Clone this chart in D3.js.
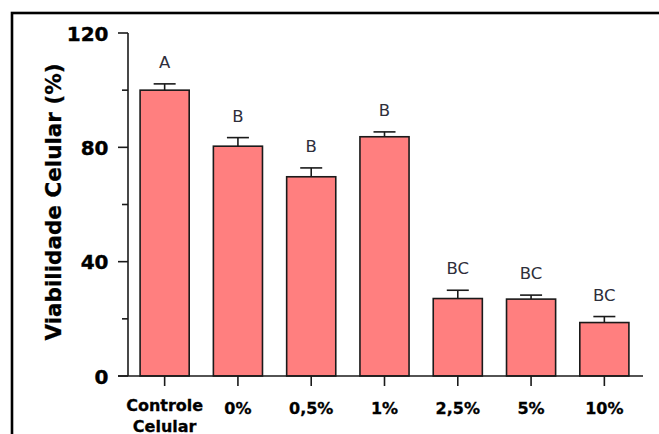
<!DOCTYPE html>
<html>
<head>
<meta charset="utf-8">
<script src="https://cdn.jsdelivr.net/npm/d3@7"></script>
<style>
  html, body { margin: 0; padding: 0; background: #fff; }
  svg { display: block; }
</style>
</head>
<body>
<div id="chart"></div>
<script>
// Cell viability per treatment group (mean, upper error, significance letter)
const groups = ["Controle Celular", "0%", "0,5%", "1%", "2,5%", "5%", "10%"];
const viability = [100, 80.4, 69.7, 83.7, 27.1, 26.9, 18.7];
const errUpper = [2.2, 3.0, 3.1, 1.7, 2.9, 1.4, 2.1];
const letters = ["A", "B", "B", "B", "BC", "BC", "BC"];
const yTicksMajor = [0, 40, 80, 120];
const yTicksMinor = [20, 60, 100];

const W = 659, H = 434;
const svg = d3.select("#chart").append("svg")
  .attr("width", W).attr("height", H);

// outer frame
svg.append("rect")
  .attr("x", 12).attr("y", 13)
  .attr("width", W + 20).attr("height", H + 20)
  .attr("fill", "none").attr("stroke", "#000").attr("stroke-width", 2.6);

const x = d3.scaleBand()
  .domain(groups)
  .range([128, 641])
  .paddingInner(0.33)
  .paddingOuter(0.165);

const y = d3.scaleLinear().domain([0, 120]).range([376, 33]);

const g = svg.append("g");

// bars
g.selectAll("rect.bar")
  .data(groups)
  .join("rect")
  .attr("class", "bar")
  .attr("x", d => x(d))
  .attr("width", x.bandwidth())
  .attr("y", (d, i) => y(viability[i]))
  .attr("height", (d, i) => y(0) - y(viability[i]))
  .attr("fill", "#FF7F7F")
  .attr("stroke", "#1a1a1a")
  .attr("stroke-width", 1.6);

// error bars (upper only) with significance letters
const cap = 11;
groups.forEach((d, i) => {
  const cx = x(d) + x.bandwidth() / 2;
  const top = y(viability[i] + errUpper[i]);
  g.append("line")
    .attr("x1", cx).attr("x2", cx)
    .attr("y1", y(viability[i])).attr("y2", top)
    .attr("stroke", "#1a1a1a").attr("stroke-width", 1.6);
  g.append("line")
    .attr("x1", cx - cap).attr("x2", cx + cap)
    .attr("y1", top).attr("y2", top)
    .attr("stroke", "#1a1a1a").attr("stroke-width", 1.6);
  g.append("text")
    .attr("x", cx)
    .attr("y", top - 16)
    .attr("text-anchor", "middle")
    .attr("font-family", "DejaVu Sans, Verdana, sans-serif")
    .attr("font-size", 16.5)
    .attr("fill", "#2e2e3a")
    .text(letters[i]);
});

// y axis line
g.append("line")
  .attr("x1", 128).attr("x2", 128)
  .attr("y1", y(120)).attr("y2", y(0))
  .attr("stroke", "#1a1a1a").attr("stroke-width", 1.6);

// y major ticks + labels
yTicksMajor.forEach(v => {
  g.append("line")
    .attr("x1", 118).attr("x2", 128)
    .attr("y1", y(v)).attr("y2", y(v))
    .attr("stroke", "#1a1a1a").attr("stroke-width", 1.6);
  g.append("text")
    .attr("x", 108.5).attr("y", y(v) + 7.5)
    .attr("text-anchor", "end")
    .attr("font-family", "DejaVu Sans, Verdana, sans-serif")
    .attr("font-weight", "bold")
    .attr("font-size", 20)
    .attr("fill", "#000")
    .attr("stroke", "#000")
    .attr("stroke-width", 0.4)
    .text(v);
});
// y minor ticks
yTicksMinor.forEach(v => {
  g.append("line")
    .attr("x1", 122).attr("x2", 128)
    .attr("y1", y(v)).attr("y2", y(v))
    .attr("stroke", "#1a1a1a").attr("stroke-width", 1.6);
});

// x axis line and ticks
g.append("line")
  .attr("x1", 118).attr("x2", 643)
  .attr("y1", y(0)).attr("y2", y(0))
  .attr("stroke", "#1a1a1a").attr("stroke-width", 1.6);

groups.forEach(d => {
  const cx = x(d) + x.bandwidth() / 2;
  g.append("line")
    .attr("x1", cx).attr("x2", cx)
    .attr("y1", y(0)).attr("y2", y(0) + 10)
    .attr("stroke", "#1a1a1a").attr("stroke-width", 1.6);
  const lines = d.split(" ");
  const t = g.append("text")
    .attr("text-anchor", "middle")
    .attr("font-family", "DejaVu Sans, Verdana, sans-serif")
    .attr("font-weight", "bold")
    .attr("font-size", 16)
    .attr("fill", "#000")
    .attr("stroke", "#000")
    .attr("stroke-width", 0.3);
  if (lines.length > 1) {
    lines.forEach((ln, k) => {
      t.append("tspan").attr("x", cx).attr("y", 411 + k * 20.5).text(ln);
    });
  } else {
    t.attr("x", cx).attr("y", 414).text(d);
  }
});

// y axis title
svg.append("text")
  .attr("transform", "translate(61,202) rotate(-90)")
  .attr("text-anchor", "middle")
  .attr("font-family", "DejaVu Sans, Verdana, sans-serif")
  .attr("font-weight", "bold")
  .attr("font-size", 21.5)
  .attr("fill", "#000")
  .attr("stroke", "#000")
  .attr("stroke-width", 0.3)
  .text("Viabilidade Celular (%)");
</script>
</body>
</html>
